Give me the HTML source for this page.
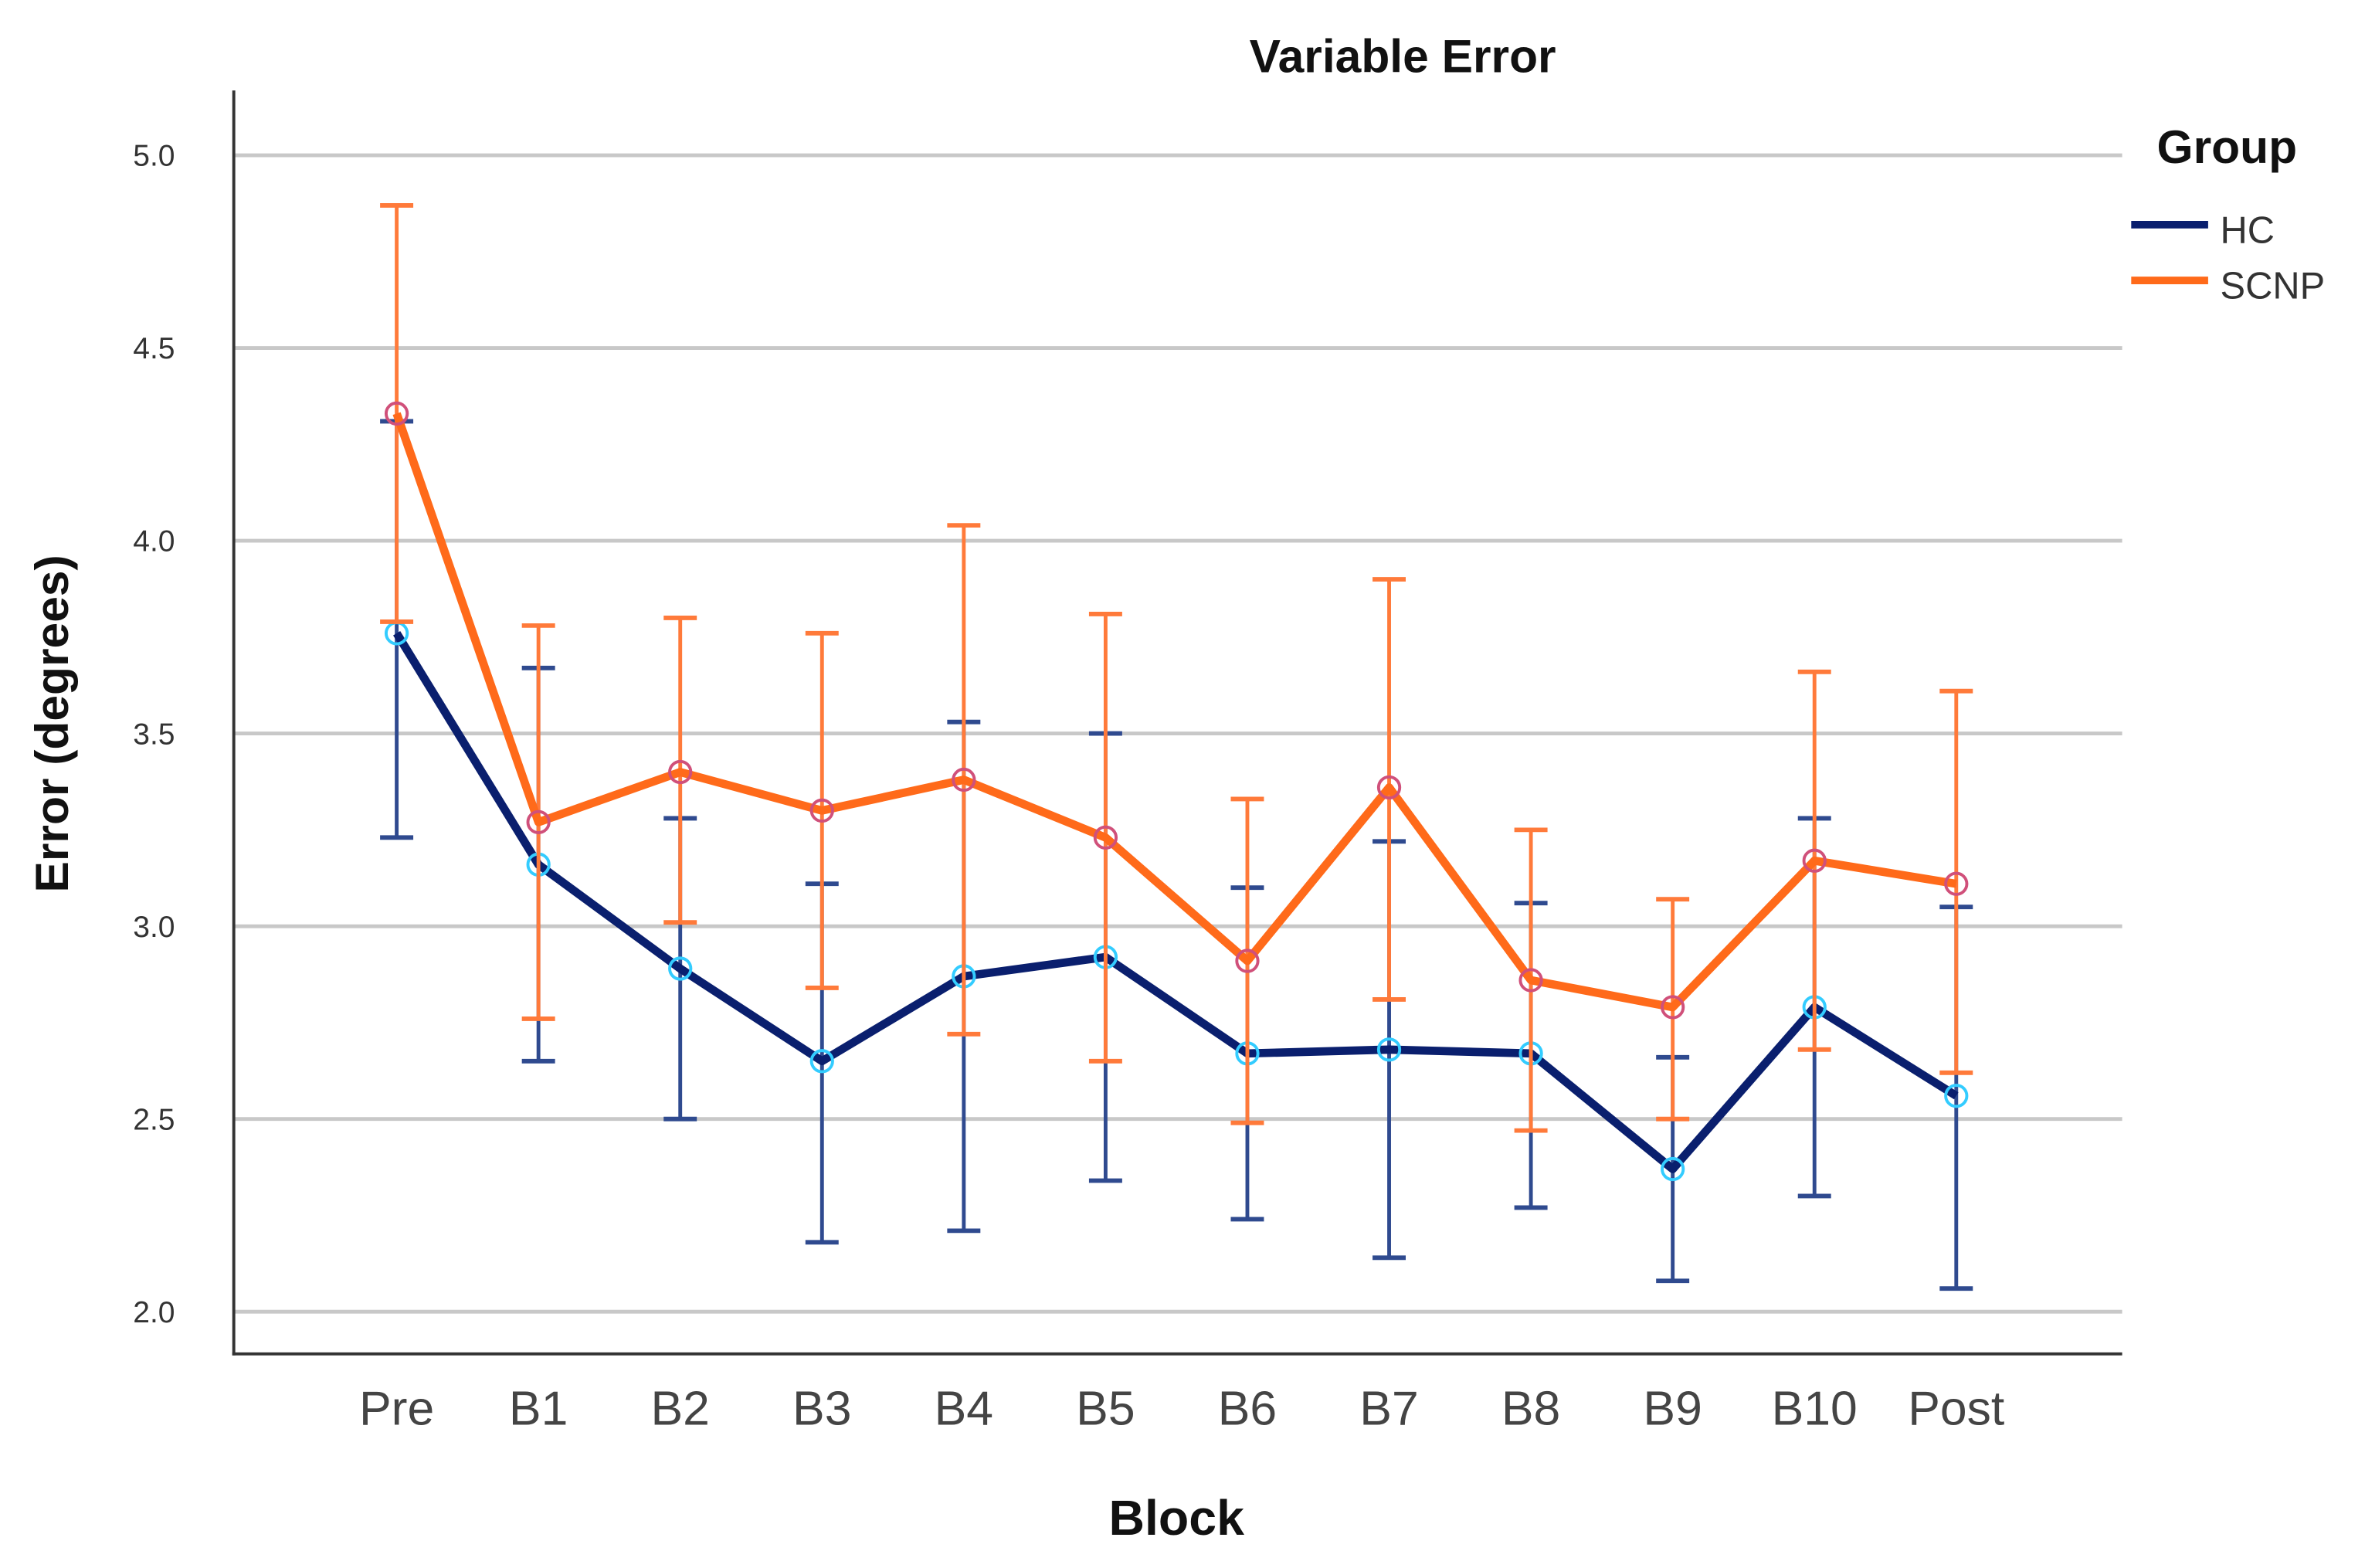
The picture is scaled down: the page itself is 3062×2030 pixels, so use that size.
<!DOCTYPE html>
<html><head><meta charset="utf-8"><style>
html,body{margin:0;padding:0;background:#fff;}
svg{display:block;font-family:"Liberation Sans",Arial,sans-serif;}
</style></head><body>
<svg id="chart" width="3062" height="2030" viewBox="0 0 1568 1040" preserveAspectRatio="none" xmlns="http://www.w3.org/2000/svg">
<text x="930" y="48" text-anchor="middle" font-size="31" font-weight="bold" fill="#111">Variable Error</text>
<g id="grid"></g>
<g id="yticks"></g>
<g id="xticks"></g>
<line x1="155" y1="60" x2="155" y2="899" stroke="#333" stroke-width="2"/>
<line x1="154" y1="898" x2="1407" y2="898" stroke="#333" stroke-width="2"/>
<g id="series"></g>
<text x="780" y="1018" text-anchor="middle" font-size="33" font-weight="bold" fill="#111">Block</text>
<text transform="translate(45,480) rotate(-90)" text-anchor="middle" font-size="31" font-weight="bold" fill="#111">Error (degrees)</text>
<g>
<text x="1430" y="108" font-size="31" font-weight="bold" fill="#111">Group</text>
<line x1="1413" y1="149" x2="1464" y2="149" stroke="#0a1f6e" stroke-width="5"/>
<text x="1472" y="161" font-size="25" fill="#333">HC</text>
<line x1="1413" y1="186" x2="1464" y2="186" stroke="#ff6a1a" stroke-width="5"/>
<text x="1472" y="198" font-size="25" fill="#333">SCNP</text>
</g>
</svg>
<script>
const categories=["Pre","B1","B2","B3","B4","B5","B6","B7","B8","B9","B10","Post"];
const yTicks=[2.0,2.5,3.0,3.5,4.0,4.5,5.0];
const hcMean=[3.76,3.16,2.89,2.65,2.87,2.92,2.67,2.68,2.67,2.37,2.79,2.56];
const hcLow=[3.23,2.65,2.50,2.18,2.21,2.34,2.24,2.14,2.27,2.08,2.30,2.06];
const hcHigh=[4.31,3.67,3.28,3.11,3.53,3.50,3.10,3.22,3.06,2.66,3.28,3.05];
const scMean=[4.33,3.27,3.40,3.30,3.38,3.23,2.91,3.36,2.86,2.79,3.17,3.11];
const scLow=[3.79,2.76,3.01,2.84,2.72,2.65,2.49,2.81,2.47,2.50,2.68,2.62];
const scHigh=[4.87,3.78,3.80,3.76,4.04,3.81,3.33,3.90,3.25,3.07,3.66,3.61];
const NS="http://www.w3.org/2000/svg";
const yS=v=>870-(v-2.0)*(870-103)/3.0;
const xS=i=>263+i*(1297-263)/11;
function mk(tag,attrs,parent){const e=document.createElementNS(NS,tag);for(const k in attrs)e.setAttribute(k,attrs[k]);parent.appendChild(e);return e;}
const grid=document.getElementById('grid'),yt=document.getElementById('yticks'),xt=document.getElementById('xticks'),ser=document.getElementById('series');
yTicks.forEach(v=>{
  const l=mk('line',{x1:155,x2:1407,y1:yS(v),y2:yS(v),stroke:'#c8c8c8','stroke-width':2.5},grid);
  
  
  const t=mk('text',{x:116,y:yS(v)+7,'text-anchor':'end','font-size':20,fill:'#333'},yt);
  t.textContent=v.toFixed(1);
  
  
});
categories.forEach((c,i)=>{
  const t=mk('text',{x:xS(i),y:945,'text-anchor':'middle','font-size':32,fill:'#444'},xt);
  t.textContent=c;
  
  
});
function drawSeries(name,mean,lo,hi,lineCol,barCol,mkCol){
  const g=mk('g',{},ser);
  
  
  mean.forEach((m,i)=>{
    const x=xS(i);
    const b=mk('line',{x1:x,x2:x,y1:yS(lo[i]),y2:yS(hi[i]),stroke:barCol,'stroke-width':2.5},g);
    
    
    [lo[i],hi[i]].forEach(v=>{
      const c=mk('line',{x1:x-11,x2:x+11,y1:yS(v),y2:yS(v),stroke:barCol,'stroke-width':3},g);
      
      
    });
  });
  const pts=mean.map((m,i)=>xS(i)+','+yS(m)).join(' ');
  const pl=mk('polyline',{points:pts,fill:'none',stroke:lineCol,'stroke-width':5.5,'stroke-linejoin':'round'},g);
  
  
  mean.forEach((m,i)=>{
    const c=mk('circle',{cx:xS(i),cy:yS(m),r:7,fill:'none',stroke:mkCol,'stroke-width':2},g);
    
    
  });
}
drawSeries('hc',hcMean,hcLow,hcHigh,'#0a1f6e','#2f4a8f','#33ccff');
drawSeries('scnp',scMean,scLow,scHigh,'#ff6a1a','#ff7a3a','#d0507a');
</script>
</body></html>
